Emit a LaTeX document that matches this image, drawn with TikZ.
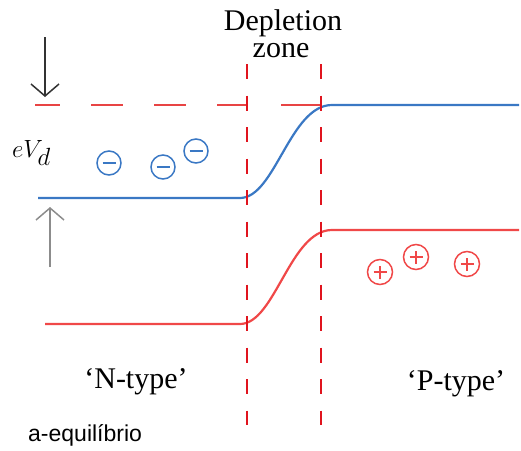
\documentclass[tikz,border=0pt]{standalone}
\usepackage{fontspec}
\setmainfont{Liberation Serif}
\newfontfamily\capsans{Liberation Sans}
\usetikzlibrary{arrows.meta}
\definecolor{bandblue}{HTML}{3A78C4}
\definecolor{bandred}{HTML}{F04848}
\definecolor{zonered}{HTML}{E0141E}
\definecolor{levelred}{HTML}{E84444}
\tikzset{
  band/.style={line width=2.2pt},
  zoneline/.style={zonered, line width=2.6pt, dash pattern=on 15pt off 16.5pt},
  levelline/.style={levelred, line width=2pt, dash pattern=on 25pt off 31pt on 32pt off 31pt on 32pt off 31pt on 31pt off 33pt on 41pt},
  potarrow/.style={line width=1.5pt, -{Straight Barb[length=12pt,width=28pt,line width=1.5pt]}},
  minus/.style={circle, draw=bandblue, line width=1.5pt, minimum size=24pt, inner sep=0pt,
    path picture={\draw[bandblue, line width=1.8pt] ([xshift=-6.5pt]path picture bounding box.center) -- ([xshift=6.5pt]path picture bounding box.center);}},
  plus/.style={circle, draw=bandred, line width=1.5pt, minimum size=25pt, inner sep=0pt,
    path picture={\draw[bandred, line width=1.8pt] ([xshift=-6.5pt]path picture bounding box.center) -- ([xshift=6.5pt]path picture bounding box.center)
      ([yshift=-6.5pt]path picture bounding box.center) -- ([yshift=6.5pt]path picture bounding box.center);}},
  bigtext/.style={font=\fontsize{30}{30}\selectfont, inner sep=0pt, anchor=base}
}
\begin{document}
\begin{tikzpicture}[x=1pt, y=-1pt]
\useasboundingbox (0,0) rectangle (521,450);
% coordinates
\coordinate (z1t) at (247,64);
\coordinate (z1b) at (247,425);
\coordinate (z2t) at (321,64);
\coordinate (z2b) at (321,425);
\coordinate (lv0) at (35,105);
\coordinate (lv1) at (321,105);
\coordinate (b0) at (38,198);
\coordinate (b1) at (240,198);
\coordinate (b2) at (332,105);
\coordinate (b3) at (519,105);
\coordinate (r0) at (45,324);
\coordinate (r1) at (240,324);
\coordinate (r2) at (332,230);
\coordinate (r3) at (519,230);
\coordinate (dt) at (45,37);
\coordinate (db) at (45,97);
\coordinate (ub) at (50,267);
\coordinate (ut) at (50,207);
% level line
\draw[levelline] (lv0) -- (lv1);
% bands
\draw[band, bandblue] (b0) -- (b1) .. controls +(35,0) and +(-42,0) .. (b2) -- (b3);
\draw[band, bandred] (r0) -- (r1) .. controls +(35,0) and +(-42,0) .. (r2) -- (r3);
% depletion zone boundaries
\draw[zoneline] (z1t) -- (z1b);
\draw[zoneline] (z2t) -- (z2b);
% arrows
\draw[potarrow, black!80] (dt) -- (db);
\draw[potarrow, black!45] (ub) -- (ut);
% texts
\node[bigtext] (dep) at (283,30) {Depletion};
\node[bigtext] (zone) at (281,57) {zone};
\node[inner sep=0pt, anchor=base west, font=\fontsize{34}{34}\selectfont] (evd) at (12,157) {$eV_d$};
\node[bigtext] (ntype) at (136,388) {‘N-type’};
\node[bigtext] (ptype) at (456,390) {‘P-type’};
\node[inner sep=0pt, anchor=base west, font=\capsans\fontsize{23}{23}\selectfont] (cap) at (28,441) {a-equilíbrio};
% charges
\node[minus] (m1) at (109,163) {};
\node[minus] (m2) at (163,167) {};
\node[minus] (m3) at (196,151) {};
\node[plus] (p1) at (380,272) {};
\node[plus] (p2) at (416,257) {};
\node[plus] (p3) at (467,264) {};
\end{tikzpicture}
\end{document}
